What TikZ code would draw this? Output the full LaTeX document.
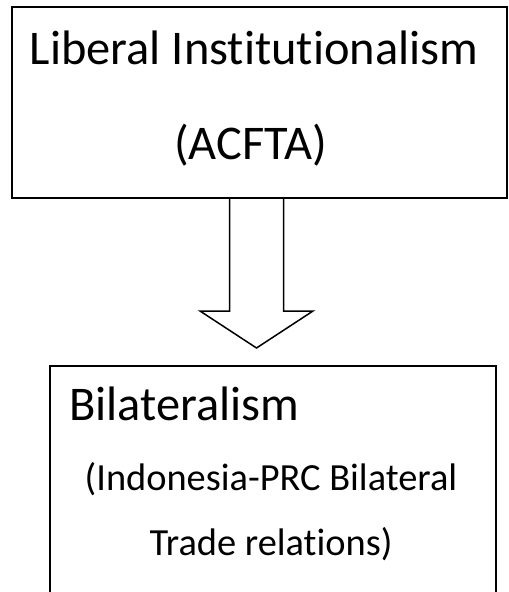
\documentclass[tikz,border=0pt]{standalone}
\usepackage{fontspec}
\setmainfont[Ligatures=NoCommon]{Carlito}
\usetikzlibrary{calc}

\begin{document}
\begin{tikzpicture}[x=0.5pt, y=-0.5pt,
    framebox/.style={draw, line width=1pt, inner sep=0pt},
    bigtext/.style={font=\fontsize{24.2}{29}\selectfont, inner sep=0pt, anchor=base},
    smalltext/.style={font=\fontsize{19.2}{23}\selectfont, inner sep=0pt, anchor=base},
    hollowarrow/.style={draw, line width=0.75pt, line join=miter}]
  \useasboundingbox (0,0) rectangle (508,592);
  \clip (0,0) rectangle (508,592);
  % upper box
  \node[framebox, minimum width=247.5pt, minimum height=95.5pt] (liberal) at (259.5,102.5) {};
  \node[bigtext] (liberalname) at (254,65) {Liberal Institutionalism};
  \node[bigtext] (acfta) at (250.5,160) {(ACFTA)};
  % lower box
  \node[framebox, minimum width=223pt, minimum height=117pt] (bilateral) at (273,483) {};
  \node[bigtext, anchor=base west] (bilateralname) at (69,420) {Bilateralism};
  \node[smalltext] (indoprc) at (271,490) {(Indonesia-PRC Bilateral};
  \node[smalltext] (trade) at (271,555) {Trade relations)};
  % block arrow
  \coordinate (tail) at ($(liberal.south)+(-3,0)$);
  \draw[hollowarrow] (tail) ++(-27,0) -- ++(0,112) -- ++(-29.5,0) -- ++(56.5,37)
    -- ++(56.5,-37) -- ++(-29.5,0) -- ++(0,-112);
\end{tikzpicture}
\end{document}
